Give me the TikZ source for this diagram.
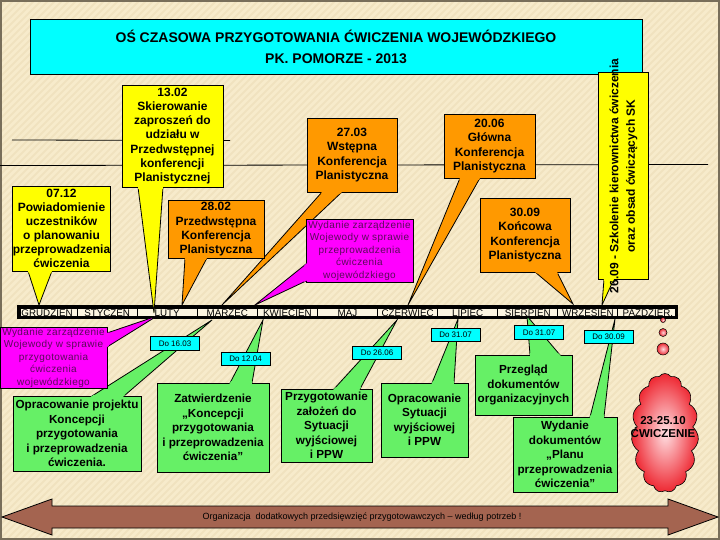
\documentclass[tikz,border=0pt]{standalone}
\usepackage{fontspec}
\setmainfont{Liberation Sans}
\newfontfamily\spacedfont[LetterSpace=4]{Liberation Sans}
\usetikzlibrary{shapes.symbols,calc}

\definecolor{bgc}{RGB}{247,235,203}
\definecolor{stripec}{RGB}{236,221,184}
\definecolor{ylw}{RGB}{255,255,0}
\definecolor{orn}{RGB}{255,153,0}
\definecolor{mag}{RGB}{255,0,255}
\definecolor{grn}{RGB}{102,240,102}
\definecolor{cyn}{RGB}{0,255,255}
\definecolor{magtxt}{RGB}{90,10,90}
\definecolor{brn}{RGB}{164,100,80}
\definecolor{cellc}{RGB}{252,245,225}
\definecolor{framec}{RGB}{120,110,90}

\newcommand\pointer[4]{\filldraw[fill=#1,draw=black,line width=0.8pt,line join=miter] (#2) -- (#4) -- (#3) -- cycle;}
\newcommand\mend[4]{\fill[#1] ($(#2)!-1.6pt!(#4)$) -- ($(#3)!-1.6pt!(#4)$) -- ($(#3)!2.2pt!(#4)$) -- ($(#2)!2.2pt!(#4)$) -- cycle;}

\tikzset{
  cbox/.style={draw=black, line width=0.8pt, inner sep=0pt, align=center, text=black},
  boldtxt/.style={font=\fontsize{12}{14.3}\selectfont\bfseries},
  greentxt/.style={font=\fontsize{11.7}{14.5}\selectfont\bfseries},
  magtext/.style={font=\fontsize{10}{12.5}\selectfont\spacedfont, text=magtxt},
  dolabel/.style={cbox, fill=cyn, minimum width=49, minimum height=13.5, font=\fontsize{8}{9}\selectfont},
  monthtxt/.style={inner sep=0pt, font=\fontsize{9.8}{10}\selectfont},
  cellbox/.style={fill=cellc, inner sep=0pt, minimum width=59, minimum height=7.6},
  bubble/.style={circle, draw=black, line width=0.5pt, inner sep=0pt, inner color={rgb,255:red,255;green,215;blue,220}, outer color={rgb,255:red,235;green,40;blue,50}},
}

\begin{document}
\begin{tikzpicture}[x=1pt,y=-1pt]
\useasboundingbox (0,0) rectangle (720,540);
% background
\fill[bgc] (0,0) rectangle (720,540);
\begin{scope}
\clip (0,0) rectangle (720,540);
\foreach \i in {0,7,...,1274} \draw[stripec, line width=2pt, opacity=0.6] (\i,0) -- (\i-540,540);
\end{scope}
\draw[framec, line width=2pt] (1,1) rectangle (719,539);

% title
\node[cbox, fill=cyn, minimum width=612, minimum height=55, font=\fontsize{14}{21}\selectfont\bfseries] (title) at (336,46.5) {OŚ CZASOWA PRZYGOTOWANIA ĆWICZENIA WOJEWÓDZKIEGO\\PK. POMORZE - 2013};

% loose horizontal lines
\draw[line width=0.8pt] (0,165.5) -- (708,164.5);
\draw[line width=0.8pt] (12,140) -- (230,140.5);

% month bar
\fill[black] (17,305.3) rectangle (678,319.2);
\foreach \m [count=\k from 0] in {GRUDZIEN,STYCZEN,LUTY,MARZEC,KWIECIEN,MAJ,CZERWIEC,LIPIEC,SIERPIEN,WRZESIEN,PAŹDZIER.}{
  \node[cellbox] (cell\k) at ({17+60.09*(\k+0.5)},312.5) {};
  \node[monthtxt, anchor=base] (month\k) at ({17+60.09*(\k+0.5)},316.2) {\m};
}
\fill[black] (17,305.3) rectangle (21,319.2);
\fill[black] (674.5,305.3) rectangle (678,319.2);

% pointer tips
\coordinate (p0712) at (39,305);
\coordinate (p1302) at (154,313);
\coordinate (p2802) at (182,305);
\coordinate (p2703) at (222,305);
\coordinate (pm1) at (255,305);
\coordinate (p2006) at (408,305);
\coordinate (p3009) at (573,304);
\coordinate (p2609) at (602,305);
\coordinate (pm2) at (157,316);
\coordinate (pg1) at (212,320);
\coordinate (pg2) at (263,320);
\coordinate (pg3) at (397,320);
\coordinate (pg4) at (458,319);
\coordinate (pg5) at (527,316);
\coordinate (pg6) at (615,319);

% pointers
\pointer{ylw}{28,271}{52,271}{p0712}
\pointer{ylw}{138,187}{163,187}{p1302}
\pointer{orn}{185,258}{207,258}{p2802}
\pointer{orn}{322,192}{342,192}{p2703}
\pointer{mag}{306,264}{306,281}{pm1}
\pointer{orn}{460,178}{480,178}{p2006}
\pointer{orn}{535,272}{557,272}{p3009}
\pointer{ylw}{604,279}{614,279}{p2609}
\pointer{mag}{107,333}{107,347}{pm2}
\pointer{grn}{92,396}{124,396}{pg1}
\pointer{grn}{230,383}{252,383}{pg2}
\pointer{grn}{334,389}{360,389}{pg3}
\pointer{grn}{432,383}{454,383}{pg4}
\pointer{grn}{530,355}{560,355}{pg5}
\pointer{grn}{590,417}{604,417}{pg6}

% upper boxes
\node[cbox, fill=ylw, minimum width=97, minimum height=85, font=\fontsize{12}{14}\selectfont\bfseries] (n0712) at (61.5,228.5) {07.12\\Powiadomienie\\uczestników\\o planowaniu\\przeprowadzenia\\ćwiczenia};
\node[cbox, boldtxt, fill=ylw, minimum width=101, minimum height=102] (n1302) at (172.5,136) {13.02\\Skierowanie\\zaproszeń do\\udziału w\\Przedwstępnej\\konferencji\\Planistycznej};
\node[cbox, boldtxt, fill=orn, minimum width=96, minimum height=58] (n2802) at (216,229.5) {28.02\\Przedwstępna\\Konferencja\\Planistyczna};
\node[cbox, boldtxt, fill=orn, minimum width=90, minimum height=74] (n2703) at (352,155) {27.03\\Wstępna\\Konferencja\\Planistyczna};
\node[cbox, magtext, fill=mag, minimum width=107, minimum height=63] (nm1) at (359.5,250.5) {Wydanie zarządzenie\\Wojewody w sprawie\\przeprowadzenia\\ćwiczenia\\wojewódzkiego};
\node[cbox, boldtxt, fill=orn, minimum width=91, minimum height=64] (n2006) at (489.5,146) {20.06\\Główna\\Konferencja\\Planistyczna};
\node[cbox, boldtxt, fill=orn, minimum width=90, minimum height=74] (n3009) at (525,235) {30.09\\Końcowa\\Konferencja\\Planistyczna};
\node[cbox, fill=ylw, minimum width=50, minimum height=207] (n2609) at (623,175.5) {};
\node[rotate=90, align=center, inner sep=0pt, font=\fontsize{12}{16.5}\selectfont\bfseries] (t2609) at (623.5,176) {26.09 - Szkolenie kierownictwa ćwiczenia\\oraz obsad ćwiczących SK};

% lower boxes
\node[cbox, magtext, fill=mag, minimum width=107, minimum height=61] (nm2) at (53.5,357.5) {Wydanie zarządzenie\\Wojewody w sprawie\\przygotowania\\ćwiczenia\\wojewódzkiego};
\node[cbox, greentxt, fill=grn, minimum width=128, minimum height=75] (g1) at (77,433.5) {Opracowanie projektu\\Koncepcji\\przygotowania\\i przeprowadzenia\\ćwiczenia.};
\node[cbox, greentxt, fill=grn, minimum width=112, minimum height=89] (g2) at (213,427.5) {Zatwierdzenie\\„Koncepcji\\przygotowania\\i przeprowadzenia\\ćwiczenia”};
\node[cbox, greentxt, fill=grn, minimum width=91, minimum height=73] (g3) at (326.5,425.5) {Przygotowanie\\założeń do\\Sytuacji\\wyjściowej\\i PPW};
\node[cbox, greentxt, fill=grn, minimum width=87, minimum height=74] (g4) at (424.5,420) {Opracowanie\\Sytuacji\\wyjściowej\\i PPW};
\node[cbox, greentxt, fill=grn, minimum width=97, minimum height=60] (g5) at (523.5,385) {Przegląd\\dokumentów\\organizacyjnych};
\node[cbox, greentxt, fill=grn, minimum width=104, minimum height=75] (g6) at (565,454.5) {Wydanie\\dokumentów\\„Planu\\przeprowadzenia\\ćwiczenia”};

% merge pointer bases
\mend{ylw}{28,271}{52,271}{p0712}
\mend{ylw}{138,187}{163,187}{p1302}
\mend{orn}{185,258}{207,258}{p2802}
\mend{orn}{322,192}{342,192}{p2703}
\mend{mag}{306,264}{306,281}{pm1}
\mend{orn}{460,178}{480,178}{p2006}
\mend{orn}{535,272}{557,272}{p3009}
\mend{ylw}{604,279}{614,279}{p2609}
\mend{mag}{107,333}{107,347}{pm2}
\mend{grn}{92,396}{124,396}{pg1}
\mend{grn}{230,383}{252,383}{pg2}
\mend{grn}{334,389}{360,389}{pg3}
\mend{grn}{432,383}{454,383}{pg4}
\mend{grn}{530,355}{560,355}{pg5}
\mend{grn}{590,417}{604,417}{pg6}

% deadline labels
\node[dolabel] (d1603) at (175,343.5) {Do 16.03};
\node[dolabel] (d1204) at (245.5,359) {Do 12.04};
\node[dolabel] (d2606) at (377,353) {Do 26.06};
\node[dolabel] (d3107a) at (455.5,335) {Do 31.07};
\node[dolabel] (d3107b) at (539,332.5) {Do 31.07};
\node[dolabel] (d3009) at (608.5,337) {Do 30.09};

% exercise cloud
\node[bubble, minimum size=5] (b1) at (663,320) {};
\node[bubble, minimum size=8] (b2) at (663,332.5) {};
\node[bubble, minimum size=12] (b3) at (663,349) {};
\node[cloud, cloud puffs=15, cloud puff arc=110, minimum width=67, minimum height=119, draw=black, line width=0.6pt, inner sep=0pt, inner color={rgb,255:red,255;green,225;blue,228}, outer color={rgb,255:red,238;green,40;blue,50}] (cloud) at (665,433) {};
\node[align=center, inner sep=0pt, font=\fontsize{11.5}{13.5}\selectfont\bfseries] (cloudtxt) at (663,427) {23-25.10\\ĆWICZENIE};

% bottom double arrow
\filldraw[fill=brn, draw=black, line width=0.8pt] (2,517) -- (52,499) -- (52,506) -- (668,506) -- (668,499) -- (718,517) -- (668,535) -- (668,528) -- (52,528) -- (52,535) -- cycle;
\node[inner sep=0pt, font=\fontsize{9}{10}\selectfont] (arrtxt) at (362,517) {Organizacja\ \ dodatkowych przedsięwzięć przygotowawczych – według potrzeb !};
\end{tikzpicture}
\end{document}
